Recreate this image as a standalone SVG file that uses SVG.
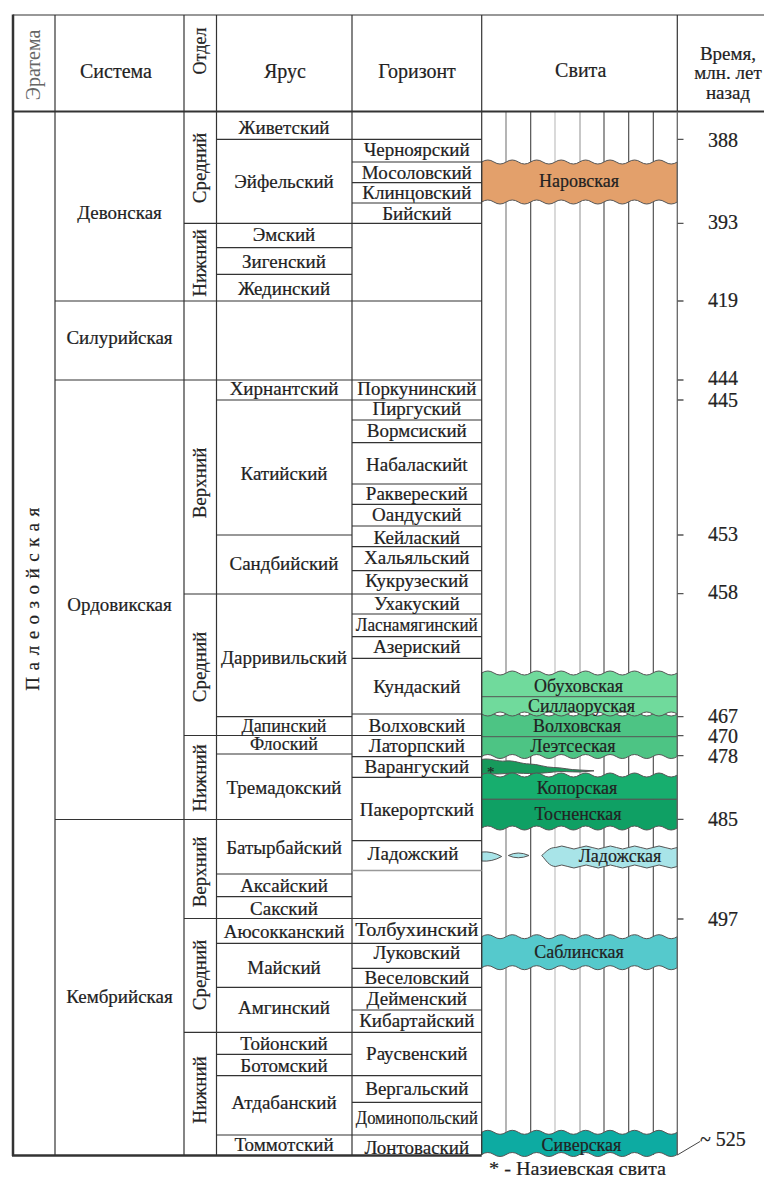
<svg xmlns="http://www.w3.org/2000/svg" width="764" height="1180" viewBox="0 0 764 1180">
<style>
.ln{stroke:#333;stroke-width:1.2;fill:none}
.thk{stroke:#333;stroke-width:2.5;fill:none}
.sv{stroke-width:1.1;fill:none}
.wv{stroke:#555;stroke-width:1}
text{font-family:"Liberation Serif","Times New Roman",serif;fill:#222;stroke:#222;stroke-width:0.2}
.t{font-size:19px;text-anchor:middle}
.h{font-size:20px;text-anchor:middle}
.s{font-size:18px;text-anchor:middle}
.a{font-size:20px;text-anchor:middle}
</style>
<rect width="764" height="1180" fill="#fff"/>

<!-- Svita column vertical lines -->
<g id="svita-grid">
<line class="sv" x1="506" y1="111.5" x2="506" y2="1155" stroke="#777"/>
<line class="sv" x1="530.7" y1="111.5" x2="530.7" y2="1155" stroke="#444"/>
<line class="sv" x1="555" y1="111.5" x2="555" y2="1155" stroke="#bbb"/>
<line class="sv" x1="580" y1="111.5" x2="580" y2="1155" stroke="#999"/>
<line class="sv" x1="604" y1="111.5" x2="604" y2="1155" stroke="#444"/>
<line class="sv" x1="628.7" y1="111.5" x2="628.7" y2="1155" stroke="#444"/>
<line class="sv" x1="653.3" y1="111.5" x2="653.3" y2="1155" stroke="#444"/>
</g>

<!-- Svita layers -->
<g id="layer-narovskaya">
<path class="wv" fill="#E3A06B" d="M481.7,162 q6.11,-4 12.225,0 t12.225,0 t12.225,0 t12.225,0 t12.225,0 t12.225,0 t12.225,0 t12.225,0 t12.225,0 t12.225,0 t12.225,0 t12.225,0 t12.225,0 t12.225,0 t12.225,0 t12.225,0 L677.3,202 q-6.11,4 -12.225,0 t-12.225,0 t-12.225,0 t-12.225,0 t-12.225,0 t-12.225,0 t-12.225,0 t-12.225,0 t-12.225,0 t-12.225,0 t-12.225,0 t-12.225,0 t-12.225,0 t-12.225,0 t-12.225,0 t-12.225,0 Z"/>
<text class="s" x="579" y="187">Наровская</text>
</g>
<g id="layer-volkhov-leetse">
<path class="wv" fill="#4DC484" d="M481.7,714 q6.11,-4 12.225,0 t12.225,0 t12.225,0 t12.225,0 t12.225,0 t12.225,0 t12.225,0 t12.225,0 t12.225,0 t12.225,0 t12.225,0 t12.225,0 t12.225,0 t12.225,0 t12.225,0 t12.225,0 L677.3,756.5 q-6.11,4 -12.225,0 t-12.225,0 t-12.225,0 t-12.225,0 t-12.225,0 t-12.225,0 t-12.225,0 t-12.225,0 t-12.225,0 t-12.225,0 t-12.225,0 t-12.225,0 t-12.225,0 t-12.225,0 t-12.225,0 t-12.225,0 Z"/>
</g>
<g id="layer-obukh-silla">
<path class="wv" fill="#70DA9C" d="M481.7,673 q6.11,-4 12.225,0 t12.225,0 t12.225,0 t12.225,0 t12.225,0 t12.225,0 t12.225,0 t12.225,0 t12.225,0 t12.225,0 t12.225,0 t12.225,0 t12.225,0 t12.225,0 t12.225,0 t12.225,0 L677.3,714 q-6.11,-4 -12.225,0 t-12.225,0 t-12.225,0 t-12.225,0 t-12.225,0 t-12.225,0 t-12.225,0 t-12.225,0 t-12.225,0 t-12.225,0 t-12.225,0 t-12.225,0 t-12.225,0 t-12.225,0 t-12.225,0 t-12.225,0 Z"/>
<line class="wv" x1="481.7" y1="696.7" x2="677.3" y2="696.7"/>
<line class="wv" x1="481.7" y1="736.7" x2="677.3" y2="736.7"/>
</g>
<g id="layer-obukhovskaya"><text class="s" x="578.5" y="692">Обуховская</text></g>
<g id="layer-sillaoruskaya"><text class="s" x="581.5" y="712">Силлаоруская</text></g>
<g id="layer-volkhovskaya"><text class="s" x="577" y="732">Волховская</text></g>
<g id="layer-leetseskaya"><text class="s" x="573" y="752">Леэтсеская</text></g>
<g id="layer-nazievskaya">
<path class="wv" fill="#179A5C" d="M481.7,759.5 C490,757.5 497,762 505.7,761 C514,760 521,764 529.7,764 C538,764 545,767.5 553.7,767.5 C562,767.5 570,770 579.7,770 L594,770.8 L579.7,772 C570,772 562,771 553.7,772 C545,773 538,773.5 529.7,773.5 C521,773.5 514,772.5 505.7,773.5 C497,774.5 490,773.5 481.7,774 Z"/>
<text x="487" y="777" style="font-size:15px">*</text>
</g>
<g id="layer-koporskaya">
<path class="wv" fill="#17AE6E" d="M481.7,775 q6.11,-4 12.225,0 t12.225,0 t12.225,0 t12.225,0 t12.225,0 t12.225,0 t12.225,0 t12.225,0 t12.225,0 t12.225,0 t12.225,0 t12.225,0 t12.225,0 t12.225,0 t12.225,0 t12.225,0 L677.3,799.3 L481.7,799.3 Z"/>
<text class="s" x="577" y="794">Копорская</text>
</g>
<g id="layer-tosnenskaya">
<path class="wv" fill="#0FA064" d="M481.7,799.3 L677.3,799.3 L677.3,828 q-6.11,4 -12.225,0 t-12.225,0 t-12.225,0 t-12.225,0 t-12.225,0 t-12.225,0 t-12.225,0 t-12.225,0 t-12.225,0 t-12.225,0 t-12.225,0 t-12.225,0 t-12.225,0 t-12.225,0 t-12.225,0 t-12.225,0 Z"/>
<text class="s" x="578" y="820">Тосненская</text>
</g>
<g id="layer-ladozhskaya">
<path class="wv" fill="#A8E4E8" d="M481.7,852 Q492,851 501.7,856.5 Q492,862 481.7,861 Z"/>
<path class="wv" fill="#A8E4E8" d="M508.3,855.5 Q518,850.5 529,855.5 Q518,860 508.3,855.5 Z"/>
<path class="wv" fill="#A8E4E8" d="M541.7,855.5 C546,852 549,847.5 555.7,847.5 q6.08,-3 12.16,0 t12.16,0 t12.16,0 t12.16,0 t12.16,0 t12.16,0 t12.16,0 t12.16,0 t12.16,0 t12.16,0 L677.3,866.5 q-6.08,3 -12.16,0 t-12.16,0 t-12.16,0 t-12.16,0 t-12.16,0 t-12.16,0 t-12.16,0 t-12.16,0 t-12.16,0 t-12.16,0 C549,866.5 546,860 541.7,855.5 Z"/>
<text class="s" x="620" y="862">Ладожская</text>
</g>
<g id="layer-sablinskaya">
<path class="wv" fill="#55C9CC" d="M481.7,936.7 q6.11,-4 12.225,0 t12.225,0 t12.225,0 t12.225,0 t12.225,0 t12.225,0 t12.225,0 t12.225,0 t12.225,0 t12.225,0 t12.225,0 t12.225,0 t12.225,0 t12.225,0 t12.225,0 t12.225,0 L677.3,967.7 q-6.11,4 -12.225,0 t-12.225,0 t-12.225,0 t-12.225,0 t-12.225,0 t-12.225,0 t-12.225,0 t-12.225,0 t-12.225,0 t-12.225,0 t-12.225,0 t-12.225,0 t-12.225,0 t-12.225,0 t-12.225,0 t-12.225,0 Z"/>
<text class="s" x="579" y="958">Саблинская</text>
</g>
<g id="layer-siverskaya">
<path class="wv" fill="#0DABA2" d="M481.7,1132.3 q6.11,-4 12.225,0 t12.225,0 t12.225,0 t12.225,0 t12.225,0 t12.225,0 t12.225,0 t12.225,0 t12.225,0 t12.225,0 t12.225,0 t12.225,0 t12.225,0 t12.225,0 t12.225,0 t12.225,0 L677.3,1154.5 q-6.11,4 -12.225,0 t-12.225,0 t-12.225,0 t-12.225,0 t-12.225,0 t-12.225,0 t-12.225,0 t-12.225,0 t-12.225,0 t-12.225,0 t-12.225,0 t-12.225,0 t-12.225,0 t-12.225,0 t-12.225,0 t-12.225,0 Z"/>
<text class="s" x="581.5" y="1151">Сиверская</text>
</g>

<!-- Table lines -->
<g id="table-lines">
<line class="ln" x1="13" y1="15" x2="764" y2="15"/>
<line class="ln" x1="13" y1="111.5" x2="764" y2="111.5" style="stroke-width:1.8"/>
<line class="thk" x1="13" y1="14.5" x2="13" y2="1156"/>
<line class="thk" x1="12" y1="1155.5" x2="481.7" y2="1155.5"/>
<line class="ln" x1="55" y1="15" x2="55" y2="1155"/>
<line class="ln" x1="184" y1="15" x2="184" y2="1155"/>
<line class="ln" x1="216.5" y1="15" x2="216.5" y2="1155"/>
<line class="ln" x1="352" y1="15" x2="352" y2="1155"/>
<line class="ln" x1="481.7" y1="15" x2="481.7" y2="1155"/>
<line class="ln" x1="677.3" y1="15" x2="677.3" y2="111.5"/>
<line x1="677.3" y1="111.5" x2="677.3" y2="1155" stroke="#666" stroke-width="1.3"/>
<path class="ln" d="M216.5,139.3H481.7 M352,162H481.7 M352,182.7H481.7 M352,203H481.7 M184,223.3H481.7 M216.5,247.7H352 M216.5,274.3H352 M55,301H481.7 M55,380H481.7 M216.5,400H481.7 M352,420H481.7 M352,442.7H481.7 M352,484H481.7 M352,504.3H481.7 M352,526H481.7 M216.5,535H352 M352,546.7H481.7 M352,570.7H481.7 M184,594H481.7 M352,614H481.7 M352,636.7H481.7 M352,658.3H481.7 M352,714H481.7 M216.5,716.7H352 M184,735.5H481.7 M216.5,754H352 M352,756.7H481.7 M352,777.3H481.7 M55,819.5H352 M352,840.7H481.7 M216.5,874H352 M216.5,896.7H352 M184,918.5H481.7 M216.5,943.3H481.7 M352,968.3H481.7 M216.5,987.3H481.7 M352,1010H481.7 M184,1032.3H481.7 M216.5,1054.3H352 M216.5,1075.7H481.7 M352,1102.3H481.7 M216.5,1135H481.7"/>
<line x1="352" y1="870.5" x2="481.7" y2="870.5" stroke="#999" stroke-width="1.6"/>
<path d="M677.3,139.3h6.2 M677.3,223.3h6.2 M677.3,301h6.2 M677.3,380h6.2 M677.3,400h6.2 M677.3,535h6.2 M677.3,593.7h6.2 M677.3,716.7h6.2 M677.3,735.7h6.2 M677.3,755.7h6.2 M677.3,819.3h6.2 M677.3,919h6.2" stroke="#555" stroke-width="1.3"/>
<line x1="677.3" y1="1155" x2="700" y2="1141.5" stroke="#444" stroke-width="1"/>
</g>

<!-- Header -->
<g id="header">
<text class="h" transform="translate(40,65) rotate(-90)" style="fill:#666;stroke:none">Эратема</text>
<text class="h" x="116" y="78">Система</text>
<text class="h" transform="translate(206,51) rotate(-90)" style="font-size:18px">Отдел</text>
<text class="h" x="285" y="78">Ярус</text>
<text class="h" x="417" y="78">Горизонт</text>
<text class="h" x="580.8" y="77">Свита</text>
<text class="h" x="728" y="59.5" style="font-size:19px">Время,</text>
<text class="h" x="728" y="79" style="font-size:19px">млн. лет</text>
<text class="h" x="728" y="98.5" style="font-size:19px">назад</text>
</g>

<!-- Eratema -->
<g id="eratema-paleozoic">
<text class="t" transform="translate(39,596) rotate(-90)" style="letter-spacing:6.5px">Палеозойская</text>
</g>

<!-- Systems -->
<g id="system-devonian"><text class="t" x="119.5" y="219">Девонская</text></g>
<g id="system-silurian"><text class="t" x="119.5" y="344">Силурийская</text></g>
<g id="system-ordovician"><text class="t" x="119.5" y="611">Ордовикская</text></g>
<g id="system-cambrian"><text class="t" x="119.5" y="1003">Кембрийская</text></g>

<!-- Series -->
<g id="series">
<text class="t" transform="translate(206,168) rotate(-90)">Средний</text>
<text class="t" transform="translate(206,263) rotate(-90)">Нижний</text>
<text class="t" transform="translate(206,483) rotate(-90)">Верхний</text>
<text class="t" transform="translate(206,667) rotate(-90)">Средний</text>
<text class="t" transform="translate(206,778) rotate(-90)">Нижний</text>
<text class="t" transform="translate(206,872) rotate(-90)">Верхний</text>
<text class="t" transform="translate(206,975) rotate(-90)">Средний</text>
<text class="t" transform="translate(206,1090) rotate(-90)">Нижний</text>
</g>

<!-- Stages -->
<g id="stages">
<text class="t" x="284" y="134">Живетский</text>
<text class="t" x="284" y="188">Эйфельский</text>
<text class="t" x="284" y="241">Эмский</text>
<text class="t" x="284" y="268">Зигенский</text>
<text class="t" x="284" y="295">Жединский</text>
<text class="t" x="284" y="395">Хирнантский</text>
<text class="t" x="284" y="480">Катийский</text>
<text class="t" x="284" y="570">Сандбийский</text>
<text class="t" x="284" y="664">Дарривильский</text>
<text class="t" x="284" y="732" style="font-size:18px">Дапинский</text>
<text class="t" x="284" y="750" style="font-size:18px">Флоский</text>
<text class="t" x="284" y="794">Тремадокский</text>
<text class="t" x="284" y="854">Батырбайский</text>
<text class="t" x="284" y="892">Аксайский</text>
<text class="t" x="284" y="915">Сакский</text>
<text class="t" x="284" y="938">Аюсокканский</text>
<text class="t" x="284" y="974">Майский</text>
<text class="t" x="284" y="1014">Амгинский</text>
<text class="t" x="284" y="1050">Тойонский</text>
<text class="t" x="284" y="1072">Ботомский</text>
<text class="t" x="284" y="1109">Атдабанский</text>
<text class="t" x="284" y="1151">Томмотский</text>
</g>

<!-- Horizons -->
<g id="horizons">
<text class="t" x="416.8" y="155.5">Черноярский</text>
<text class="t" x="416.8" y="179">Мосоловский</text>
<text class="t" x="416.8" y="199">Клинцовский</text>
<text class="t" x="416.8" y="219.5">Бийский</text>
<text class="t" x="416.8" y="395" textLength="119" lengthAdjust="spacingAndGlyphs">Поркунинский</text>
<text class="t" x="416.8" y="415">Пиргуский</text>
<text class="t" x="416.8" y="437">Вормсиский</text>
<text class="t" x="416.8" y="470.5">Набаласкийt</text>
<text class="t" x="416.8" y="500">Раквереский</text>
<text class="t" x="416.8" y="521">Оандуский</text>
<text class="t" x="416.8" y="544">Кейлаский</text>
<text class="t" x="416.8" y="564">Хальяльский</text>
<text class="t" x="416.8" y="587">Кукрузеский</text>
<text class="t" x="416.8" y="610">Ухакуский</text>
<text class="t" x="416.8" y="631" textLength="122" lengthAdjust="spacingAndGlyphs">Ласнамягинский</text>
<text class="t" x="416.8" y="653">Азериский</text>
<text class="t" x="416.8" y="693">Кундаский</text>
<text class="t" x="416.8" y="732">Волховский</text>
<text class="t" x="416.8" y="752">Латорпский</text>
<text class="t" x="416.8" y="773">Варангуский</text>
<text class="t" x="416.8" y="816">Пакерортский</text>
<text class="t" x="413" y="860">Ладожский</text>
<text class="t" x="416.8" y="936" textLength="123" lengthAdjust="spacingAndGlyphs">Толбухинский</text>
<text class="t" x="416.8" y="959">Луковский</text>
<text class="t" x="416.8" y="984">Веселовский</text>
<text class="t" x="416.8" y="1005">Дейменский</text>
<text class="t" x="416.8" y="1027">Кибартайский</text>
<text class="t" x="416.8" y="1060">Раусвенский</text>
<text class="t" x="416.8" y="1095">Вергальский</text>
<text class="t" x="416.8" y="1124" textLength="122" lengthAdjust="spacingAndGlyphs">Доминопольский</text>
<text class="t" x="416.8" y="1154">Лонтоваский</text>
</g>

<!-- Ages -->
<g id="ages">
<text class="a" x="723" y="146.8">388</text>
<text class="a" x="723" y="228.8">393</text>
<text class="a" x="723" y="306.8">419</text>
<text class="a" x="723" y="385">444</text>
<text class="a" x="723" y="406.8">445</text>
<text class="a" x="723" y="541.4">453</text>
<text class="a" x="723" y="599.4">458</text>
<text class="a" x="723" y="722.8">467</text>
<text class="a" x="723" y="742.5">470</text>
<text class="a" x="723" y="762.5">478</text>
<text class="a" x="723" y="825.8">485</text>
<text class="a" x="723" y="925.8">497</text>
<text x="700" y="1145.5" style="font-size:20px">~ 525</text>
</g>

<g id="footnote">
<text x="489" y="1175" style="font-size:19px" textLength="177" lengthAdjust="spacingAndGlyphs">* - Назиевская свита</text>
</g>
</svg>
